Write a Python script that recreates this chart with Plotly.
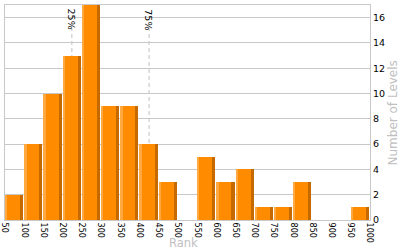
import plotly.graph_objects as go

bin_left = [50, 100, 150, 200, 250, 300, 350, 400, 450, 500, 550, 600, 650, 700, 750, 800, 850, 900, 950]
counts = [2, 6, 10, 13, 17, 9, 9, 6, 3, 0, 5, 3, 4, 1, 1, 3, 0, 0, 1]
x_ticks = list(range(50, 1001, 50))
y_ticks = list(range(0, 17, 2))
pct_labels = ["25%", "75%"]
pct_values = [224, 425]

bin_w = 50
gap = 2.6
light_w = 6
dark_w = 8

fig = go.Figure()
fig.add_trace(go.Bar(x=bin_left, y=counts, offset=0, width=bin_w - gap,
                     marker=dict(color="#FF8C00", line=dict(width=0)), hoverinfo="skip"))
fig.add_trace(go.Bar(x=bin_left, y=counts, offset=0, width=light_w,
                     marker=dict(color="#FFA940", line=dict(width=0)), hoverinfo="skip"))
fig.add_trace(go.Bar(x=[b + bin_w - gap - dark_w for b in bin_left], y=counts, offset=0, width=dark_w,
                     marker=dict(color="#C46A00", line=dict(width=0)), hoverinfo="skip"))

for lab, v in zip(pct_labels, pct_values):
    fig.add_shape(type="line", xref="x", yref="y", x0=v, x1=v, y0=0, y1=15.2,
                  line=dict(color="#C0C0C0", width=1, dash="4px,3px"), layer="below")
    fig.add_annotation(x=v, y=16.85, xref="x", yref="y", text=lab, showarrow=False,
                       textangle=90, yanchor="top", xanchor="center",
                       font=dict(family="DejaVu Sans", size=9.5, color="#000000"))

fig.add_annotation(x=0.488, y=-0.108, xref="paper", yref="paper", text="Rank", showarrow=False,
                   xanchor="center", yanchor="middle",
                   font=dict(family="DejaVu Sans", size=11.5, color="#C0C0C0"))
fig.add_annotation(x=1.063, y=0.5, xref="paper", yref="paper", text="Number of Levels", showarrow=False,
                   xanchor="center", yanchor="middle", textangle=-90,
                   font=dict(family="DejaVu Sans", size=12, color="#C0C0C0"))

fig.update_layout(
    width=400, height=250, margin=dict(l=5, r=30, t=5, b=30, autoexpand=False),
    barmode="overlay", bargap=0, showlegend=False,
    plot_bgcolor="white", paper_bgcolor="white",
    xaxis=dict(range=[50, 1000], tickvals=x_ticks, ticktext=[str(t) for t in x_ticks],
               tickangle=90, showgrid=False, zeroline=False, showline=True, mirror=True,
               linecolor="#C8C8C8", linewidth=1, ticks="", automargin=False,
               tickfont=dict(family="DejaVu Sans", size=8, color="#000000")),
    yaxis=dict(range=[0, 17], tickvals=y_ticks, side="right", showgrid=True, gridcolor="#C8C8C8",
               zeroline=False, showline=True, mirror=True, linecolor="#C8C8C8", linewidth=1, ticks="",
               automargin=False,
               tickfont=dict(family="DejaVu Sans", size=9.5, color="#000000")),
)
fig.write_html("out.html")
